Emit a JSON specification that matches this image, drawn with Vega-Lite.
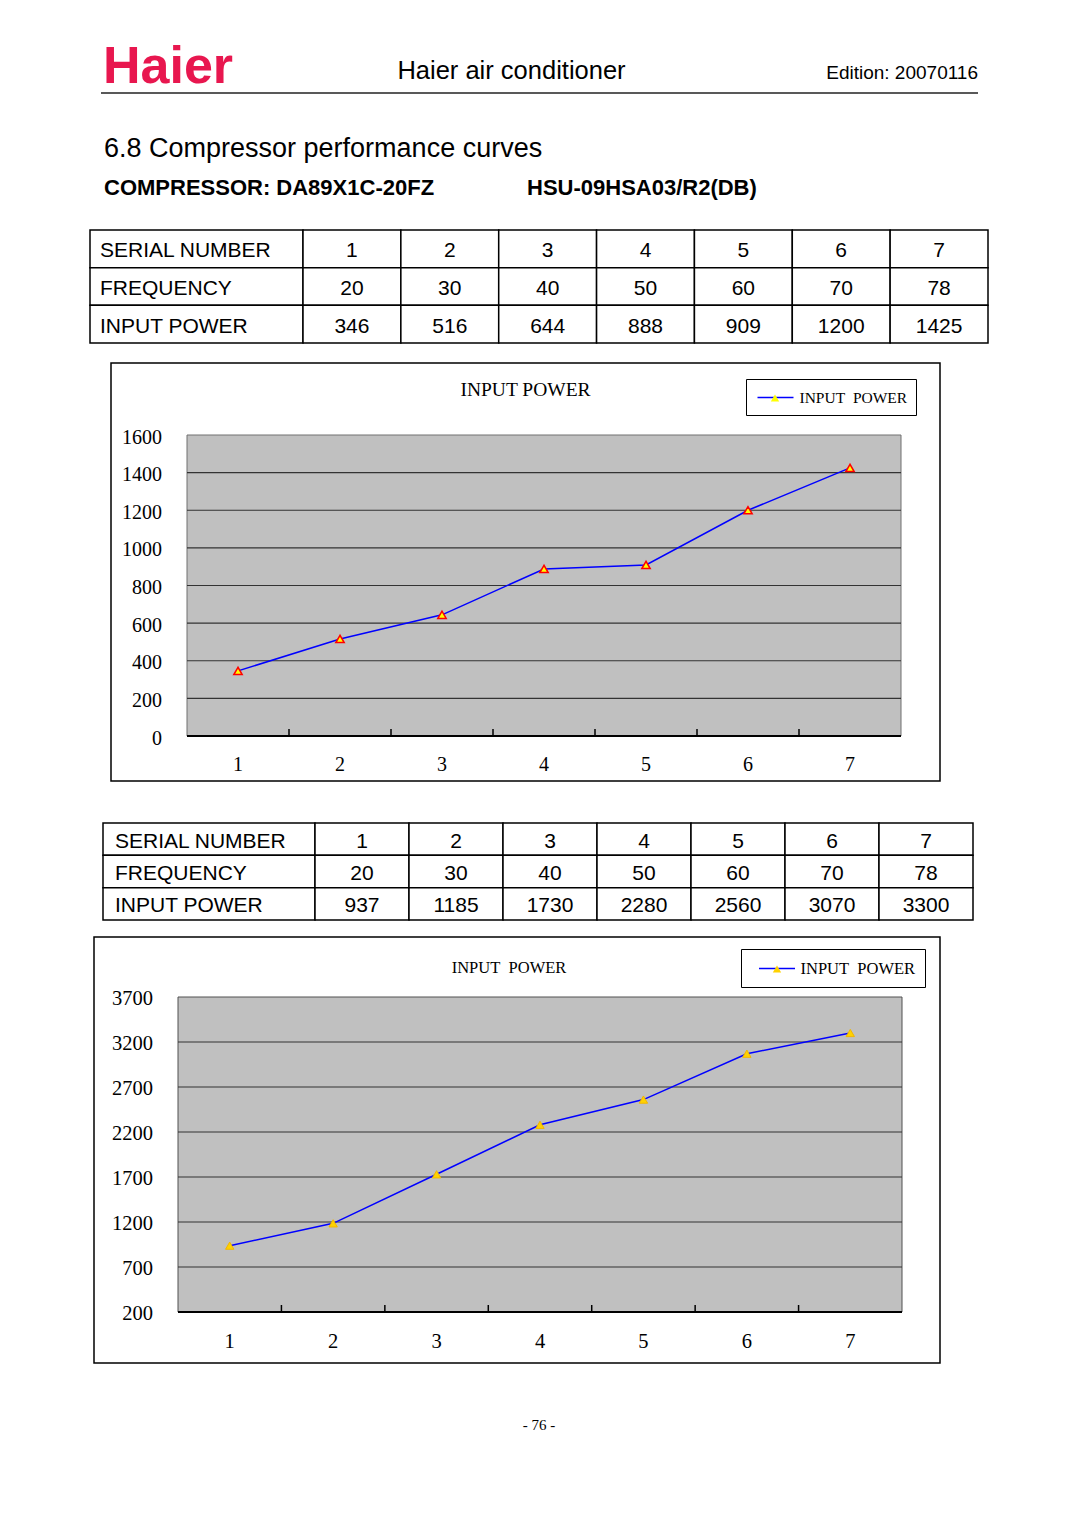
{
  "$schema": "https://vega.github.io/schema/vega-lite/v6.json",
  "width": 1080,
  "height": 1527,
  "autosize": {"type": "none"},
  "padding": 0,
  "background": "#ffffff",
  "config": {"view": {"stroke": null}, "axis": {"disable": true}},
  "datasets": {
    "header": [
      {"part": "logo", "label": "Haier"},
      {"part": "brand", "label": "Haier air conditioner"},
      {"part": "edition", "label": "Edition: 20070116"},
      {"part": "heading", "label": "6.8 Compressor performance curves"},
      {"part": "compressor", "label": "COMPRESSOR: DA89X1C-20FZ"},
      {"part": "model", "label": "HSU-09HSA03/R2(DB)"},
      {"part": "footer", "label": "- 76 -"}
    ],
    "rowLabels": [
      {"row": "serial", "label": "SERIAL NUMBER"},
      {"row": "frequency", "label": "FREQUENCY"},
      {"row": "power", "label": "INPUT POWER"}
    ],
    "c1": [
      {"serial": 1, "frequency": 20, "power": 346},
      {"serial": 2, "frequency": 30, "power": 516},
      {"serial": 3, "frequency": 40, "power": 644},
      {"serial": 4, "frequency": 50, "power": 888},
      {"serial": 5, "frequency": 60, "power": 909},
      {"serial": 6, "frequency": 70, "power": 1200},
      {"serial": 7, "frequency": 78, "power": 1425}
    ],
    "c2": [
      {"serial": 1, "frequency": 20, "power": 937},
      {"serial": 2, "frequency": 30, "power": 1185},
      {"serial": 3, "frequency": 40, "power": 1730},
      {"serial": 4, "frequency": 50, "power": 2280},
      {"serial": 5, "frequency": 60, "power": 2560},
      {"serial": 6, "frequency": 70, "power": 3070},
      {"serial": 7, "frequency": 78, "power": 3300}
    ],
    "ticks1": [{"v": 0}, {"v": 200}, {"v": 400}, {"v": 600}, {"v": 800}, {"v": 1000}, {"v": 1200}, {"v": 1400}, {"v": 1600}],
    "ticks2": [{"v": 200}, {"v": 700}, {"v": 1200}, {"v": 1700}, {"v": 2200}, {"v": 2700}, {"v": 3200}, {"v": 3700}],
    "frame1": [{"frame": "chart1"}],
    "frame2": [{"frame": "chart2"}],
    "one": [{"k": 1}]
  },
  "resolve": {"scale": {"x": "independent", "y": "independent", "stroke": "independent", "shape": "independent"}},
  "layer": [
    {
      "data": {"name": "header"},
      "layer": [
        {"transform": [{"filter": "datum.part==='logo'"}], "mark": {"type": "rule", "stroke": "#222222", "strokeWidth": 1.5},
         "encoding": {"x": {"datum": 0, "type": "quantitative", "scale": {"domain": [0, 1], "range": [101, 978], "nice": false, "zero": false}}, "x2": {"datum": 1},
                      "y": {"datum": 0, "type": "quantitative", "scale": {"domain": [0, 1], "range": [93, 40], "nice": false, "zero": false}}}},
        {"transform": [{"filter": "datum.part==='logo'"}], "mark": {"type": "text", "align": "left", "baseline": "alphabetic", "font": "Liberation Sans", "fontWeight": "bold", "fontSize": 52, "fill": "#e8174f", "dx": 2, "dy": -10},
         "encoding": {"x": {"datum": 0, "type": "quantitative"}, "y": {"datum": 0, "type": "quantitative"}, "text": {"field": "label"}}},
        {"transform": [{"filter": "datum.part==='brand'"}], "mark": {"type": "text", "align": "center", "baseline": "alphabetic", "font": "Liberation Sans", "fontSize": 25.5, "fill": "#000000", "dx": -28, "dy": -14},
         "encoding": {"x": {"datum": 0.5, "type": "quantitative"}, "y": {"datum": 0, "type": "quantitative"}, "text": {"field": "label"}}},
        {"transform": [{"filter": "datum.part==='edition'"}], "mark": {"type": "text", "align": "right", "baseline": "alphabetic", "font": "Liberation Sans", "fontSize": 19, "fill": "#000000", "dy": -14},
         "encoding": {"x": {"datum": 1, "type": "quantitative"}, "y": {"datum": 0, "type": "quantitative"}, "text": {"field": "label"}}},
        {"transform": [{"filter": "datum.part==='heading'"}], "mark": {"type": "text", "align": "left", "baseline": "alphabetic", "font": "Liberation Sans", "fontSize": 27, "fill": "#000000", "dx": 3, "dy": 64},
         "encoding": {"x": {"datum": 0, "type": "quantitative"}, "y": {"datum": 0, "type": "quantitative"}, "text": {"field": "label"}}},
        {"transform": [{"filter": "datum.part==='compressor'"}], "mark": {"type": "text", "align": "left", "baseline": "alphabetic", "font": "Liberation Sans", "fontWeight": "bold", "fontSize": 22, "fill": "#000000", "dx": 3, "dy": 102},
         "encoding": {"x": {"datum": 0, "type": "quantitative"}, "y": {"datum": 0, "type": "quantitative"}, "text": {"field": "label"}}},
        {"transform": [{"filter": "datum.part==='model'"}], "mark": {"type": "text", "align": "left", "baseline": "alphabetic", "font": "Liberation Sans", "fontWeight": "bold", "fontSize": 22, "fill": "#000000", "dx": -12.5, "dy": 102},
         "encoding": {"x": {"datum": 0.5, "type": "quantitative"}, "y": {"datum": 0, "type": "quantitative"}, "text": {"field": "label"}}},
        {"transform": [{"filter": "datum.part==='footer'"}], "mark": {"type": "text", "align": "center", "baseline": "middle", "font": "Liberation Serif", "fontSize": 15, "fill": "#000000", "dx": -0.5, "dy": 1332},
         "encoding": {"x": {"datum": 0.5, "type": "quantitative"}, "y": {"datum": 0, "type": "quantitative"}, "text": {"field": "label"}}}
      ]
    },
    {
      "resolve": {"scale": {"x": "independent"}},
      "layer": [
        {
          "data": {"name": "rowLabels"},
          "layer": [
            {"mark": {"type": "rect", "fill": "#ffffff", "stroke": "#000000", "strokeWidth": 1.5},
             "encoding": {"x": {"datum": "label", "type": "nominal", "scale": {"type": "band", "domain": ["label"], "range": [90, 303], "paddingInner": 0, "paddingOuter": 0}},
                          "y": {"field": "row", "type": "nominal", "scale": {"type": "band", "domain": ["serial", "frequency", "power"], "range": [230, 343], "paddingInner": 0, "paddingOuter": 0}}}},
            {"mark": {"type": "text", "align": "left", "baseline": "middle", "dx": -96.5, "dy": 2.5, "font": "Liberation Sans", "fontSize": 21, "fill": "#000000"},
             "encoding": {"x": {"datum": "label", "type": "nominal"}, "y": {"field": "row", "type": "nominal"}, "text": {"field": "label"}}}
          ]
        },
        {
          "data": {"name": "c1"},
          "transform": [{"fold": ["serial", "frequency", "power"], "as": ["row", "value"]}],
          "layer": [
            {"mark": {"type": "rect", "fill": "#ffffff", "stroke": "#000000", "strokeWidth": 1.5},
             "encoding": {"x": {"field": "serial", "type": "ordinal", "scale": {"type": "band", "domain": [1, 2, 3, 4, 5, 6, 7], "range": [303, 988], "paddingInner": 0, "paddingOuter": 0}},
                          "y": {"field": "row", "type": "nominal", "scale": {"type": "band", "domain": ["serial", "frequency", "power"], "range": [230, 343], "paddingInner": 0, "paddingOuter": 0}}}},
            {"mark": {"type": "text", "align": "center", "baseline": "middle", "dy": 2.5, "font": "Liberation Sans", "fontSize": 21, "fill": "#000000"},
             "encoding": {"x": {"field": "serial", "type": "ordinal"}, "y": {"field": "row", "type": "nominal"}, "text": {"field": "value", "type": "nominal"}}}
          ]
        }
      ]
    },
    {
      "data": {"name": "frame1"},
      "layer": [
        {"mark": {"type": "rect", "fill": "#ffffff", "stroke": "#000000", "strokeWidth": 1.5},
         "encoding": {"x": {"field": "frame", "type": "nominal", "scale": {"type": "band", "domain": ["chart1"], "range": [111, 940], "paddingInner": 0, "paddingOuter": 0}},
                      "y": {"field": "frame", "type": "nominal", "scale": {"type": "band", "domain": ["chart1"], "range": [363, 781], "paddingInner": 0, "paddingOuter": 0}}}},
        {"mark": {"type": "text", "text": "INPUT POWER", "align": "center", "baseline": "middle", "font": "Liberation Serif", "fontSize": 19.5, "fill": "#000000", "dy": -182},
         "encoding": {"x": {"field": "frame", "type": "nominal"}, "y": {"field": "frame", "type": "nominal"}}}
      ]
    },
    {
      "resolve": {"scale": {"x": "independent"}},
      "layer": [
        {
          "layer": [
            {"data": {"name": "one"}, "mark": {"type": "rect", "fill": "#c0c0c0", "stroke": "#707070", "strokeWidth": 1},
             "encoding": {"x": {"datum": 0.5, "type": "quantitative", "scale": {"domain": [0.5, 7.5], "range": [187, 901], "nice": false, "zero": false}}, "x2": {"datum": 7.5},
                          "y": {"datum": 0, "type": "quantitative", "scale": {"domain": [0, 1600], "range": [736, 435], "nice": false, "zero": false}}, "y2": {"datum": 1600}}},
            {"data": {"name": "ticks1"}, "transform": [{"filter": "datum.v > 0 && datum.v < 1600"}], "mark": {"type": "rule", "stroke": "#333333", "strokeWidth": 1.2},
             "encoding": {"x": {"datum": 0.5, "type": "quantitative"}, "x2": {"datum": 7.5}, "y": {"field": "v", "type": "quantitative", "scale": {"domain": [0, 1600], "range": [736, 435], "nice": false, "zero": false}}}},
            {"data": {"name": "one"}, "mark": {"type": "rule", "stroke": "#000000", "strokeWidth": 2},
             "encoding": {"x": {"datum": 0.5, "type": "quantitative"}, "x2": {"datum": 7.5}, "y": {"datum": 0, "type": "quantitative"}}},
            {"data": {"name": "ticks1"}, "mark": {"type": "text", "align": "right", "baseline": "middle", "dx": -25, "dy": 2.5, "font": "Liberation Serif", "fontSize": 20, "fill": "#000000"},
             "encoding": {"x": {"datum": 0.5, "type": "quantitative"}, "y": {"field": "v", "type": "quantitative"}, "text": {"field": "v", "type": "quantitative", "format": "d"}}}
          ]
        },
        {
          "data": {"name": "c1"},
          "layer": [
            {"transform": [{"filter": "datum.serial > 1"}], "mark": {"type": "rule", "stroke": "#000000", "strokeWidth": 1.5},
             "encoding": {"x": {"field": "serial", "type": "ordinal", "bandPosition": 0, "scale": {"type": "band", "domain": [1, 2, 3, 4, 5, 6, 7], "range": [187, 901], "paddingInner": 0, "paddingOuter": 0}},
                          "y": {"datum": 0, "type": "quantitative", "scale": {"domain": [0, 1600], "range": [736, 435], "nice": false, "zero": false}}, "y2": {"datum": 37}}},
            {"mark": {"type": "line", "strokeWidth": 1.5},
             "encoding": {"x": {"field": "serial", "type": "ordinal"}, "y": {"field": "power", "type": "quantitative"},
                          "stroke": {"datum": "INPUT\u00a0 POWER", "type": "nominal", "scale": {"range": ["#0000ff"]},
                                     "legend": {"orient": "none", "legendX": 746, "legendY": 379, "title": null, "symbolType": "M-2,0H2", "symbolSize": 324, "symbolOffset": 11, "symbolStrokeWidth": 1.5, "labelFont": "Liberation Serif", "labelFontSize": 15.5, "labelColor": "#000000", "labelOffset": 14, "padding": 8.5, "strokeColor": "#000000", "fillColor": "#ffffff"}}}},
            {"mark": {"type": "point", "fill": "#ffff00", "stroke": "#ff0000", "strokeWidth": 1.5, "opacity": 1, "size": 70},
             "encoding": {"x": {"field": "serial", "type": "ordinal"}, "y": {"field": "power", "type": "quantitative"},
                          "shape": {"datum": "marker", "type": "nominal", "scale": {"range": ["triangle-up"]},
                                    "legend": {"orient": "none", "legendX": 770, "legendY": 393, "title": null, "symbolType": "triangle-up", "symbolSize": 70, "symbolFillColor": "#ffff00", "symbolStrokeColor": "#ff0000", "symbolStrokeWidth": 1.5, "symbolOpacity": 1, "labelExpr": "''", "labelFontSize": 1, "padding": 0, "zindex": 2}}}},
            {"mark": {"type": "text", "align": "center", "baseline": "middle", "dy": 29, "font": "Liberation Serif", "fontSize": 20, "fill": "#000000"},
             "encoding": {"x": {"field": "serial", "type": "ordinal"}, "y": {"datum": 0, "type": "quantitative"}, "text": {"field": "serial", "type": "ordinal"}}}
          ]
        }
      ]
    },
    {
      "resolve": {"scale": {"x": "independent"}},
      "layer": [
        {
          "data": {"name": "rowLabels"},
          "layer": [
            {"mark": {"type": "rect", "fill": "#ffffff", "stroke": "#000000", "strokeWidth": 1.5},
             "encoding": {"x": {"datum": "label", "type": "nominal", "scale": {"type": "band", "domain": ["label"], "range": [103, 315], "paddingInner": 0, "paddingOuter": 0}},
                          "y": {"field": "row", "type": "nominal", "scale": {"type": "band", "domain": ["serial", "frequency", "power"], "range": [823, 920], "paddingInner": 0, "paddingOuter": 0}}}},
            {"mark": {"type": "text", "align": "left", "baseline": "middle", "dx": -94, "dy": 2.5, "font": "Liberation Sans", "fontSize": 21, "fill": "#000000"},
             "encoding": {"x": {"datum": "label", "type": "nominal"}, "y": {"field": "row", "type": "nominal"}, "text": {"field": "label"}}}
          ]
        },
        {
          "data": {"name": "c2"},
          "transform": [{"fold": ["serial", "frequency", "power"], "as": ["row", "value"]}],
          "layer": [
            {"mark": {"type": "rect", "fill": "#ffffff", "stroke": "#000000", "strokeWidth": 1.5},
             "encoding": {"x": {"field": "serial", "type": "ordinal", "scale": {"type": "band", "domain": [1, 2, 3, 4, 5, 6, 7], "range": [315, 973], "paddingInner": 0, "paddingOuter": 0}},
                          "y": {"field": "row", "type": "nominal", "scale": {"type": "band", "domain": ["serial", "frequency", "power"], "range": [823, 920], "paddingInner": 0, "paddingOuter": 0}}}},
            {"mark": {"type": "text", "align": "center", "baseline": "middle", "dy": 2.5, "font": "Liberation Sans", "fontSize": 21, "fill": "#000000"},
             "encoding": {"x": {"field": "serial", "type": "ordinal"}, "y": {"field": "row", "type": "nominal"}, "text": {"field": "value", "type": "nominal"}}}
          ]
        }
      ]
    },
    {
      "data": {"name": "frame2"},
      "layer": [
        {"mark": {"type": "rect", "fill": "#ffffff", "stroke": "#000000", "strokeWidth": 1.5},
         "encoding": {"x": {"field": "frame", "type": "nominal", "scale": {"type": "band", "domain": ["chart2"], "range": [94, 940], "paddingInner": 0, "paddingOuter": 0}},
                      "y": {"field": "frame", "type": "nominal", "scale": {"type": "band", "domain": ["chart2"], "range": [937, 1363], "paddingInner": 0, "paddingOuter": 0}}}},
        {"mark": {"type": "text", "text": "INPUT\u00a0 POWER", "align": "center", "baseline": "middle", "font": "Liberation Serif", "fontSize": 16.5, "fill": "#000000", "dx": -8, "dy": -182},
         "encoding": {"x": {"field": "frame", "type": "nominal"}, "y": {"field": "frame", "type": "nominal"}}}
      ]
    },
    {
      "resolve": {"scale": {"x": "independent"}},
      "layer": [
        {
          "layer": [
            {"data": {"name": "one"}, "mark": {"type": "rect", "fill": "#c0c0c0", "stroke": "#505050", "strokeWidth": 1},
             "encoding": {"x": {"datum": 0.5, "type": "quantitative", "scale": {"domain": [0.5, 7.5], "range": [178, 902], "nice": false, "zero": false}}, "x2": {"datum": 7.5},
                          "y": {"datum": 200, "type": "quantitative", "scale": {"domain": [200, 3700], "range": [1312, 997], "nice": false, "zero": false}}, "y2": {"datum": 3700}}},
            {"data": {"name": "ticks2"}, "transform": [{"filter": "datum.v > 200 && datum.v < 3700"}], "mark": {"type": "rule", "stroke": "#333333", "strokeWidth": 1.2},
             "encoding": {"x": {"datum": 0.5, "type": "quantitative"}, "x2": {"datum": 7.5}, "y": {"field": "v", "type": "quantitative", "scale": {"domain": [200, 3700], "range": [1312, 997], "nice": false, "zero": false}}}},
            {"data": {"name": "one"}, "mark": {"type": "rule", "stroke": "#000000", "strokeWidth": 2},
             "encoding": {"x": {"datum": 0.5, "type": "quantitative"}, "x2": {"datum": 7.5}, "y": {"datum": 200, "type": "quantitative"}}},
            {"data": {"name": "ticks2"}, "mark": {"type": "text", "align": "right", "baseline": "middle", "dx": -25, "dy": 2, "font": "Liberation Serif", "fontSize": 20.5, "fill": "#000000"},
             "encoding": {"x": {"datum": 0.5, "type": "quantitative"}, "y": {"field": "v", "type": "quantitative"}, "text": {"field": "v", "type": "quantitative", "format": "d"}}}
          ]
        },
        {
          "data": {"name": "c2"},
          "layer": [
            {"transform": [{"filter": "datum.serial > 1"}], "mark": {"type": "rule", "stroke": "#000000", "strokeWidth": 1.5},
             "encoding": {"x": {"field": "serial", "type": "ordinal", "bandPosition": 0, "scale": {"type": "band", "domain": [1, 2, 3, 4, 5, 6, 7], "range": [178, 902], "paddingInner": 0, "paddingOuter": 0}},
                          "y": {"datum": 200, "type": "quantitative", "scale": {"domain": [200, 3700], "range": [1312, 997], "nice": false, "zero": false}}, "y2": {"datum": 278}}},
            {"mark": {"type": "line", "strokeWidth": 1.5},
             "encoding": {"x": {"field": "serial", "type": "ordinal"}, "y": {"field": "power", "type": "quantitative"},
                          "stroke": {"datum": "INPUT\u00a0 POWER", "type": "nominal", "scale": {"range": ["#0000ff"]},
                                     "legend": {"orient": "none", "legendX": 741, "legendY": 949, "title": null, "symbolType": "M-2,0H2", "symbolSize": 324, "symbolOffset": 16.5, "symbolStrokeWidth": 1.5, "labelFont": "Liberation Serif", "labelFontSize": 16.5, "labelColor": "#000000", "labelOffset": 13.5, "padding": 9.5, "strokeColor": "#000000", "fillColor": "#ffffff"}}}},
            {"mark": {"type": "point", "fill": "#ffd200", "stroke": "#f2b600", "strokeWidth": 1, "opacity": 1, "size": 70},
             "encoding": {"x": {"field": "serial", "type": "ordinal"}, "y": {"field": "power", "type": "quantitative"},
                          "shape": {"datum": "marker", "type": "nominal", "scale": {"range": ["triangle-up"]},
                                    "legend": {"orient": "none", "legendX": 772, "legendY": 964, "title": null, "symbolType": "triangle-up", "symbolSize": 70, "symbolFillColor": "#ffd200", "symbolStrokeColor": "#f2b600", "symbolStrokeWidth": 1, "symbolOpacity": 1, "labelExpr": "''", "labelFontSize": 1, "padding": 0, "zindex": 2}}}},
            {"mark": {"type": "text", "align": "center", "baseline": "middle", "dy": 30, "font": "Liberation Serif", "fontSize": 20.5, "fill": "#000000"},
             "encoding": {"x": {"field": "serial", "type": "ordinal"}, "y": {"datum": 200, "type": "quantitative"}, "text": {"field": "serial", "type": "ordinal"}}}
          ]
        }
      ]
    }
  ]
}
